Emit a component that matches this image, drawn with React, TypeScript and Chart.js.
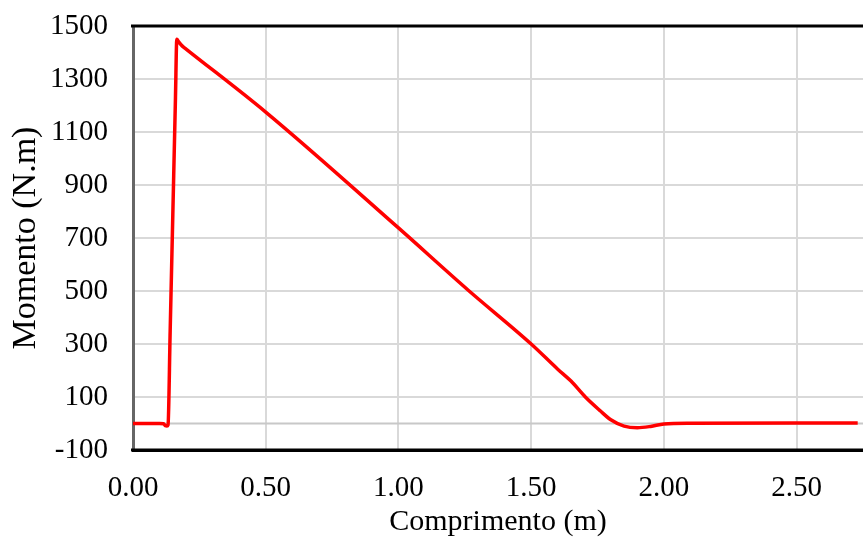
import React, { useEffect, useRef } from "react";
import { Chart, registerables } from "chart.js";

Chart.register(...registerables);

const xValues = [0, 0.05, 0.1, 0.115, 0.122, 0.128, 0.132, 0.14, 0.15, 0.16, 0.165, 0.172, 0.185, 0.2, 0.5, 1.0, 1.264, 1.5, 1.6, 1.65, 1.704, 1.76, 1.8, 1.85, 1.9, 1.95, 2.0, 2.1, 2.5, 2.73];
const momentValues = [0, 0, 0, -1, -8, -9, -5, 348, 789, 1230, 1450, 1440, 1425, 1413, 1175, 738, 502, 300, 205, 160, 100, 48, 14, -10, -16, -11, -2, 1, 2, 2];
const xTickValues = [0, 0.5, 1.0, 1.5, 2.0, 2.5];
const yTickValues = [-100, 100, 300, 500, 700, 900, 1100, 1300, 1500];
const xTitle = "Comprimento (m)";
const yTitle = "Momento (N.m)";

const FONT = "'Liberation Serif', 'Times New Roman', serif";

const framePlugin = {
  id: "frame",
  beforeDatasetsDraw(chart: any) {
    const { ctx, chartArea, scales } = chart;
    const y0 = scales.y.getPixelForValue(0);
    ctx.save();
    ctx.strokeStyle = "#c8c8c8";
    ctx.lineWidth = 2;
    ctx.beginPath();
    ctx.moveTo(chartArea.left, y0);
    ctx.lineTo(chartArea.right, y0);
    ctx.stroke();
    ctx.restore();
  },
  afterDatasetsDraw(chart: any) {
    const { ctx, chartArea } = chart;
    ctx.save();
    ctx.strokeStyle = "#000";
    ctx.lineWidth = 3;
    ctx.beginPath();
    ctx.moveTo(chartArea.left - 2, chartArea.top);
    ctx.lineTo(chartArea.right, chartArea.top);
    ctx.stroke();
    ctx.beginPath();
    ctx.moveTo(chartArea.left - 2, chartArea.bottom);
    ctx.lineTo(chartArea.right, chartArea.bottom);
    ctx.stroke();
    ctx.restore();
  },
};

export default function App() {
  const ref = useRef<HTMLCanvasElement>(null);
  useEffect(() => {
    if (!ref.current) return;
    const chart = new Chart(ref.current, {
      type: "line",
      data: {
        datasets: [
          {
            data: xValues.map((x, i) => ({ x, y: momentValues[i] })),
            borderColor: "#ff0000",
            borderWidth: 3.5,
            pointRadius: 0,
            fill: false,
            cubicInterpolationMode: "monotone",
          },
        ],
      },
      plugins: [framePlugin],
      options: {
        animation: false,
        responsive: false,
        maintainAspectRatio: false,
        layout: { padding: { top: 26, right: 0, left: 0, bottom: 0 } },
        plugins: { legend: { display: false }, tooltip: { enabled: false } },
        scales: {
          x: {
            type: "linear",
            min: 0,
            max: 2.75,
            afterBuildTicks: (s: any) => {
              s.ticks = xTickValues.map((v) => ({ value: v }));
            },
            afterFit: (s: any) => {
              s.height = 94;
              s.paddingLeft = 0;
              s.paddingRight = 0;
            },
            ticks: {
              color: "#000",
              font: { family: FONT, size: 29 },
              padding: 21,
              maxRotation: 0,
              autoSkip: false,
              callback: (v: any) => Number(v).toFixed(2),
            },
            grid: { color: "#d9d9d9", lineWidth: 2, drawTicks: false },
            border: { color: "#000", width: 3 },
            title: {
              display: true,
              text: xTitle,
              color: "#000",
              font: { family: FONT, size: 30 },
              padding: { top: 0, bottom: 4 },
            },
          },
          y: {
            type: "linear",
            min: -100,
            max: 1500,
            afterBuildTicks: (s: any) => {
              s.ticks = yTickValues.map((v) => ({ value: v }));
            },
            afterFit: (s: any) => {
              s.width = 133;
              s.paddingTop = 0;
              s.paddingBottom = 0;
            },
            ticks: {
              color: "#000",
              font: { family: FONT, size: 29 },
              padding: 25,
              autoSkip: false,
              callback: (v: any) => String(v),
            },
            grid: { color: "#d9d9d9", lineWidth: 2, drawTicks: false },
            border: { color: "#666", width: 3 },
            title: {
              display: true,
              text: yTitle,
              color: "#000",
              font: { family: FONT, size: 34 },
              padding: { top: 6, bottom: 0 },
            },
          },
        },
      },
    });
    return () => chart.destroy();
  }, []);
  return (
    <div style={{ position: "fixed", left: 0, top: 0, width: 863, height: 544, background: "#fff" }}>
      <canvas ref={ref} width={863} height={544} style={{ width: 863, height: 544, display: "block" }} />
    </div>
  );
}
